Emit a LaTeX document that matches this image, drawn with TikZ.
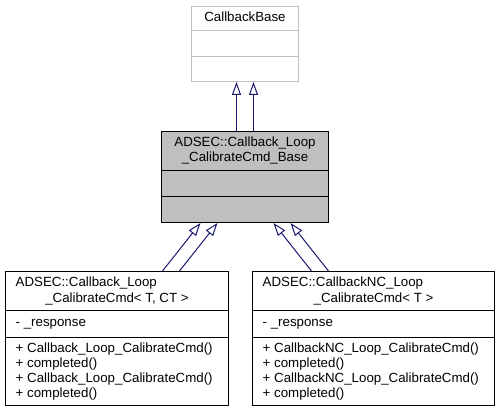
\documentclass[tikz,border=0pt]{standalone}
\usepackage{fontspec}
\setmainfont{Liberation Sans}
\usetikzlibrary{arrows.meta,calc}
\definecolor{edgeblue}{HTML}{191970}
\definecolor{lightborder}{HTML}{BFBFBF}
\definecolor{midfill}{HTML}{BFBFBF}
\begin{document}
\begin{tikzpicture}[x=1pt,y=-1pt,
  box/.style={draw, line width=1pt, inner sep=0pt, anchor=north west},
  txt/.style={inner sep=0pt, font=\fontsize{13.3}{15}\selectfont},
  inh/.style={draw=edgeblue, line width=1pt, -{Triangle[open, length=13pt, width=9pt]}},
  divider/.style={line width=1pt}]
\useasboundingbox (0,0) rectangle (499,412);
% base class
\node[box, draw=lightborder, fill=white, minimum width=107pt, minimum height=75pt] (base) at (191,6) {};
\draw[divider, lightborder] (base.west |- 0,31) -- (base.east |- 0,31);
\draw[divider, lightborder] (base.west |- 0,57) -- (base.east |- 0,57);
\node[txt, anchor=base] (baset) at (base.north |- 0,22) {CallbackBase};
% middle class
\node[box, fill=midfill, minimum width=167pt, minimum height=91pt] (mid) at (161,131) {};
\draw[divider] (mid.west |- 0,171) -- (mid.east |- 0,171);
\draw[divider] (mid.west |- 0,197) -- (mid.east |- 0,197);
\node[txt, anchor=base] (midt1) at (mid.north |- 0,147) {ADSEC::Callback\_Loop};
\node[txt, anchor=base] (midt2) at (mid.north |- 0,162) {\_CalibrateCmd\_Base};
% left class
\node[box, fill=white, minimum width=223pt, minimum height=134pt] (left) at (5,271) {};
\draw[divider] (left.west |- 0,310) -- (left.east |- 0,310);
\draw[divider] (left.west |- 0,337) -- (left.east |- 0,337);
\node[txt, anchor=base west] (lt1) at (15.5,287) {ADSEC::Callback\_Loop};
\node[txt, anchor=base] (lt2) at (left.north |- 0,302) {\_CalibrateCmd< T, CT >};
\node[txt, anchor=base west] (la1) at (15.5,326) {- \_response};
\node[txt, anchor=base west] (lm1) at (15.5,352) {+ Callback\_Loop\_CalibrateCmd()};
\node[txt, anchor=base west] (lm2) at (15.5,367) {+ completed()};
\node[txt, anchor=base west] (lm3) at (15.5,382) {+ Callback\_Loop\_CalibrateCmd()};
\node[txt, anchor=base west] (lm4) at (15.5,397) {+ completed()};
% right class
\node[box, fill=white, minimum width=242pt, minimum height=134pt] (right) at (252,271) {};
\draw[divider] (right.west |- 0,310) -- (right.east |- 0,310);
\draw[divider] (right.west |- 0,337) -- (right.east |- 0,337);
\node[txt, anchor=base west] (rt1) at (262.5,287) {ADSEC::CallbackNC\_Loop};
\node[txt, anchor=base] (rt2) at (right.north |- 0,302) {\_CalibrateCmd< T >};
\node[txt, anchor=base west] (ra1) at (262.5,326) {- \_response};
\node[txt, anchor=base west] (rm1) at (262.5,352) {+ CallbackNC\_Loop\_CalibrateCmd()};
\node[txt, anchor=base west] (rm2) at (262.5,367) {+ completed()};
\node[txt, anchor=base west] (rm3) at (262.5,382) {+ CallbackNC\_Loop\_CalibrateCmd()};
\node[txt, anchor=base west] (rm4) at (262.5,397) {+ completed()};
% inheritance arrows
\draw[inh] ($(mid.north)+(-8.5,0)$) -- ($(base.south)+(-8.5,0)$);
\draw[inh] ($(mid.north)+(8.5,0)$) -- ($(base.south)+(8.5,0)$);
\draw[inh] ($(left.north)+(45.5,0)$) -- ($(mid.south)+(-44.5,0)$);
\draw[inh] ($(left.north)+(62.5,0)$) -- ($(mid.south)+(-27.5,0)$);
\draw[inh] ($(right.north)+(-62,0)$) -- ($(mid.south)+(28.5,0)$);
\draw[inh] ($(right.north)+(-45,0)$) -- ($(mid.south)+(45.5,0)$);
\end{tikzpicture}
\end{document}
